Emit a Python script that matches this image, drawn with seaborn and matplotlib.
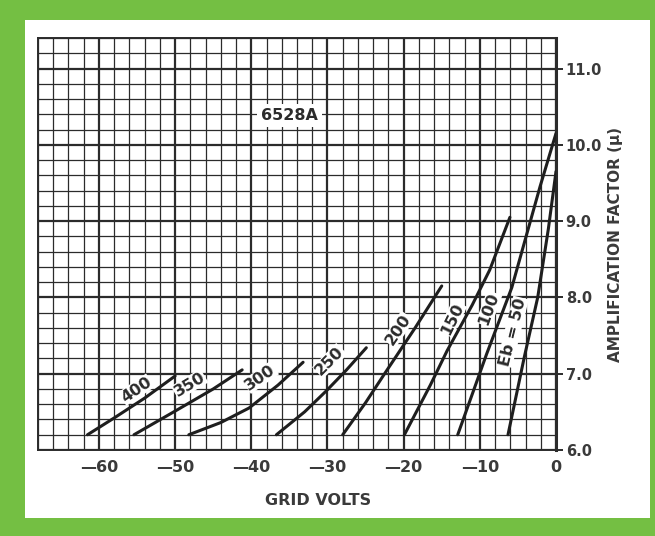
import numpy as np
import pandas as pd
import matplotlib.pyplot as plt
import seaborn as sns
from matplotlib.ticker import MultipleLocator
from matplotlib.patches import Rectangle

# 6528A amplification factor vs grid volts, one curve per plate voltage (Eb)
eb400_x = [-61.5, -58.0, -54.0, -50.0]
eb400_y = [6.2, 6.42, 6.68, 6.97]
eb350_x = [-55.4, -50.0, -45.0, -41.2]
eb350_y = [6.2, 6.51, 6.80, 7.05]
eb300_x = [-48.2, -44.0, -40.3, -36.5, -33.2]
eb300_y = [6.2, 6.36, 6.55, 6.85, 7.15]
eb250_x = [-36.7, -33.0, -30.1, -27.5, -24.9]
eb250_y = [6.2, 6.50, 6.78, 7.05, 7.34]
eb200_x = [-28.0, -25.0, -22.5, -18.5, -15.0]
eb200_y = [6.2, 6.62, 7.0, 7.6, 8.15]
eb150_x = [-19.9, -16.5, -14.3, -11.0, -8.7, -6.05]
eb150_y = [6.2, 6.85, 7.3, 7.9, 8.36, 9.05]
eb100_x = [-12.9, -9.1, -5.8, -2.1, 0.0]
eb100_y = [6.2, 7.26, 8.13, 9.45, 10.15]
eb50_x = [-6.3, -4.2, -2.4, -1.0, 0.0]
eb50_y = [6.2, 7.2, 8.0, 8.9, 9.65]

curves = [(eb400_x, eb400_y), (eb350_x, eb350_y), (eb300_x, eb300_y),
          (eb250_x, eb250_y), (eb200_x, eb200_y), (eb150_x, eb150_y),
          (eb100_x, eb100_y), (eb50_x, eb50_y)]

# curve labels: text, anchor (volts, mu), rotation
label_text = ['400', '350', '300', '250', '200', '150', '100', 'Eb = 50']
label_x = [-55.1, -48.1, -38.8, -29.7, -20.7, -13.6, -8.8, -5.7]
label_y = [6.79, 6.86, 6.95, 7.17, 7.58, 7.72, 7.85, 7.55]
label_rot = [34, 31, 35, 45, 56, 64, 70, 76]

x_ticks = [-60, -50, -40, -30, -20, -10, 0]
x_ticklabels = ['\u201460', '\u201450', '\u201440', '\u201430', '\u201420', '\u201410', '0']
y_ticks = [6.0, 7.0, 8.0, 9.0, 10.0, 11.0]

sns.set_style("white")
plt.rcParams['font.family'] = ['DejaVu Sans']
ink = '#2b2b2b'
text_col = '#3a3a3a'

fig = plt.figure(figsize=(6.55, 5.36), dpi=100)
fig.patch.set_facecolor('#74bf43')
panel = Rectangle((25 / 655, 1 - 518 / 536), 625 / 655, 498 / 536,
                  transform=fig.transFigure, facecolor='white',
                  edgecolor='none', zorder=-10)
fig.add_artist(panel)

ax = fig.add_axes([38 / 655, 1 - 450 / 536, 518 / 655, 412 / 536])
ax.set_zorder(5)
ax.set_facecolor('white')

# curves sit on top of the label boxes, the boxes only blank out the grid
for cx, cy in curves:
    sns.lineplot(x=cx, y=cy, ax=ax, color='#1e1e1e', linewidth=2.2,
                 sort=False, estimator=None, zorder=6)

for t, lx, ly, r in zip(label_text, label_x, label_y, label_rot):
    ax.text(lx, ly, t, rotation=r, ha='center', va='center', fontsize=11.5,
            fontweight='bold', color=ink, zorder=4,
            bbox=dict(facecolor='white', edgecolor='none', pad=0.3))

ax.text(-35, 10.38, '6528A', ha='center', va='center', fontsize=11.5,
        fontweight='bold', color=ink, zorder=4,
        bbox=dict(facecolor='white', edgecolor='none', pad=3))

ax.set_xlim(-68, 0)
ax.set_ylim(6.0, 11.4)
ax.xaxis.set_major_locator(MultipleLocator(10))
ax.xaxis.set_minor_locator(MultipleLocator(2))
ax.yaxis.set_major_locator(MultipleLocator(1))
ax.yaxis.set_minor_locator(MultipleLocator(0.2))
ax.set_xticks(x_ticks)
ax.set_xticklabels(x_ticklabels)
ax.set_yticks(y_ticks)
ax.set_yticklabels([f'{v:.1f}' for v in y_ticks])

ax.grid(which='minor', color=ink, linewidth=0.9)
ax.grid(which='major', color=ink, linewidth=1.6)
ax.set_axisbelow(True)
for side in ['left', 'bottom', 'top']:
    ax.spines[side].set_color(ink)
    ax.spines[side].set_linewidth(1.4)
ax.spines['right'].set_color(ink)
ax.spines['right'].set_linewidth(2.2)

ax.yaxis.tick_right()
ax.yaxis.set_label_position('right')
ax.tick_params(axis='y', which='major', direction='out', length=5, width=1.4,
               color=ink, labelsize=10.5, labelcolor=text_col, pad=2)
ax.tick_params(axis='y', which='minor', length=0)
ax.tick_params(axis='x', which='both', length=0, labelsize=11.5,
               labelcolor=text_col, pad=7)
for lab in ax.get_xticklabels() + ax.get_yticklabels():
    lab.set_fontweight('bold')

ax.set_xlabel('GRID VOLTS', fontsize=11.5, fontweight='bold', color=text_col)
ax.xaxis.set_label_coords(0.54, -0.105)
ax.set_ylabel('AMPLIFICATION FACTOR (\u03bc)', fontsize=11, fontweight='bold',
              color=text_col, rotation=90)
ax.yaxis.set_label_coords(1.1, 0.5)

fig.savefig('out.png', dpi=100, facecolor=fig.get_facecolor())
